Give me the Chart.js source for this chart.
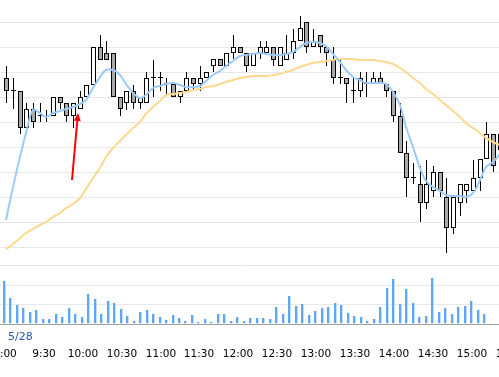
<!DOCTYPE html>
<html>
<head>
<meta charset="utf-8">
<script src="https://cdn.jsdelivr.net/npm/chart.js@4.4.1/dist/chart.umd.min.js"></script>
<style>
  html, body { margin: 0; padding: 0; background: #fff; }
  #wrap { position: relative; width: 499px; height: 377px; overflow: hidden; }
  canvas { position: absolute; left: -50px; }
  #priceChart { top: 0; }
  #volumeChart { top: 265px; }
  #date { position: absolute; left: 8px; top: 330px; font: 11px "DejaVu Sans"; line-height: 13px; color: #2a5aa8; }
</style>
</head>
<body>
<div id="wrap">
  <canvas id="priceChart" width="600" height="265"></canvas>
  <canvas id="volumeChart" width="600" height="112"></canvas>
  <div id="date">5/28</div>
</div>
<script>
// 5-minute candles from 9:00, index 0..74
const opens = [2694, 2681, 2681, 2644, 2663, 2656, 2655, 2656, 2675, 2669,
  2656, 2663, 2675, 2687, 2725, 2719, 2719, 2675, 2669, 2681,
  2669, 2669, 2694, 2694, 2688, 2688, 2675, 2681, 2694, 2688,
  2694, 2706, 2713, 2706, 2719, 2725, 2719, 2706, 2719, 2719,
  2725, 2706, 2712, 2719, 2731, 2750, 2725, 2737, 2725, 2712,
  2694, 2694, 2681, 2681, 2688, 2688, 2694, 2688, 2681, 2656,
  2619, 2594, 2588, 2569, 2581, 2600, 2575, 2544, 2569, 2581,
  2581, 2594, 2613, 2638, 2622];
const highs = [2706, 2694, 2681, 2669, 2669, 2669, 2662, 2675, 2675, 2669,
  2669, 2681, 2687, 2725, 2737, 2731, 2719, 2675, 2681, 2687,
  2675, 2700, 2712, 2700, 2694, 2688, 2681, 2700, 2694, 2706,
  2700, 2713, 2713, 2719, 2737, 2725, 2719, 2719, 2731, 2731,
  2725, 2725, 2737, 2743, 2756, 2750, 2743, 2737, 2725, 2725,
  2712, 2694, 2694, 2700, 2700, 2700, 2700, 2688, 2681, 2669,
  2631, 2609, 2606, 2612, 2606, 2600, 2594, 2575, 2588, 2588,
  2612, 2613, 2650, 2638, 2638];
const lows = [2669, 2663, 2638, 2638, 2644, 2650, 2650, 2656, 2663, 2650,
  2644, 2663, 2675, 2687, 2712, 2712, 2675, 2656, 2662, 2663,
  2663, 2669, 2675, 2681, 2676, 2675, 2669, 2681, 2681, 2681,
  2694, 2700, 2706, 2706, 2713, 2719, 2700, 2706, 2713, 2719,
  2706, 2706, 2712, 2713, 2731, 2719, 2725, 2719, 2706, 2688,
  2688, 2669, 2669, 2675, 2675, 2688, 2688, 2675, 2650, 2619,
  2575, 2588, 2550, 2563, 2575, 2575, 2519, 2538, 2556, 2569,
  2581, 2581, 2613, 2600, 2619];
const closes = [2681, 2681, 2644, 2663, 2650, 2656, 2655, 2675, 2669, 2656,
  2669, 2675, 2687, 2725, 2712, 2712, 2675, 2663, 2681, 2669,
  2675, 2694, 2694, 2694, 2688, 2675, 2681, 2694, 2688, 2694,
  2700, 2713, 2706, 2719, 2725, 2719, 2706, 2719, 2725, 2725,
  2712, 2725, 2719, 2731, 2744, 2725, 2731, 2725, 2719, 2694,
  2694, 2688, 2681, 2694, 2688, 2694, 2688, 2681, 2656, 2619,
  2594, 2594, 2569, 2588, 2600, 2581, 2544, 2575, 2588, 2588,
  2594, 2613, 2638, 2606, 2638];
const ma5 = [2552, 2585, 2615, 2639, 2662, 2659, 2655, 2659, 2661, 2663,
  2665, 2668, 2672, 2684, 2695, 2702, 2702, 2697, 2688, 2679,
  2674, 2677, 2684, 2686, 2688, 2689, 2687, 2685, 2685, 2686,
  2691, 2697, 2701, 2706, 2711, 2716, 2717, 2718, 2719, 2718,
  2717, 2717, 2718, 2720, 2725, 2729, 2730, 2729, 2726, 2718,
  2710, 2702, 2695, 2692, 2689, 2689, 2689, 2688, 2680, 2667,
  2645, 2625, 2604, 2591, 2585, 2581, 2577, 2576, 2576, 2575,
  2579, 2592, 2605, 2610, 2618];
const ma25 = [2523, 2528, 2534, 2539, 2543, 2547, 2550, 2555, 2559, 2564,
  2568, 2574, 2583, 2594, 2604, 2615, 2624, 2631, 2637, 2644,
  2650, 2658, 2665, 2671, 2677, 2678, 2679, 2680, 2682, 2683,
  2685, 2686, 2688.5, 2690.5, 2692.5, 2694, 2695, 2696, 2696.3, 2696.5,
  2697, 2698.5, 2700, 2702.5, 2705, 2706.5, 2708.5, 2710, 2711, 2711.5,
  2712.5, 2712.5, 2712.5, 2712, 2712, 2712, 2711, 2709.5, 2707.5, 2704,
  2700, 2694, 2689, 2683, 2678, 2672.5, 2667, 2661, 2655, 2649,
  2644, 2639, 2634.5, 2630.5, 2627];
const volumes = [44, 27, 19, 16, 12, 14, 5, 5, 10, 7.5,
  16, 10, 7, 31, 26, 10, 24, 22, 15, 8,
  3, 12, 14, 10, 7, 4, 9, 6, 3, 9,
  2, 5.5, 2, 10, 10, 3, 7, 3, 6, 6.5,
  6, 5, 17, 10.5, 29, 18.5, 20, 9, 13, 16,
  17, 21.5, 19, 11.5, 8.5, 7, 3.5, 5.5, 17.5, 36.5,
  46, 21, 35.5, 21.5, 7, 8, 47, 12.5, 16, 10,
  17, 18.5, 24, 14.5, 10];
// one label every 6 candles (30 min)
const timeLabels = ["9:00", "9:30", "10:00", "10:30", "11:00", "11:30", "12:00",
  "12:30", "13:00", "13:30", "14:00", "14:30", "15:00", "15:30"];
// red arrow annotation, in candle index / price
const arrowFrom = { x: 9.9, y: 2592 };
const arrowTo = { x: 10.8, y: 2659 };

const xMin = -8.43, xMax = 81.57; // visible window of the crop
Chart.defaults.font.family = "DejaVu Sans";

const idx = opens.map((_, i) => i);

// shift bar datasets by half a pixel so 1px wicks stay sharp
const pixelShift = {
  id: "pixelShift",
  beforeDatasetDraw(chart, args, opts) {
    if (args.meta.type !== "bar") return;
    chart.ctx.save();
    chart.ctx.translate(opts.dx || 0, 0);
  },
  afterDatasetDraw(chart, args) {
    if (args.meta.type !== "bar") return;
    chart.ctx.restore();
  }
};

const arrowPlugin = {
  id: "arrow",
  afterDatasetsDraw(chart) {
    const { ctx, scales: { x, y } } = chart;
    const x0 = x.getPixelForValue(arrowFrom.x), y0 = y.getPixelForValue(arrowFrom.y);
    const x1 = x.getPixelForValue(arrowTo.x), y1 = y.getPixelForValue(arrowTo.y);
    const ang = Math.atan2(y1 - y0, x1 - x0);
    const head = 8, half = 3.5;
    const bx = x1 - head * Math.cos(ang), by = y1 - head * Math.sin(ang);
    ctx.save();
    ctx.strokeStyle = "#ff0000";
    ctx.fillStyle = "#ff0000";
    ctx.lineWidth = 2;
    ctx.beginPath();
    ctx.moveTo(x0, y0);
    ctx.lineTo(bx, by);
    ctx.stroke();
    ctx.beginPath();
    ctx.moveTo(x1, y1);
    ctx.lineTo(bx + half * Math.sin(ang), by - half * Math.cos(ang));
    ctx.lineTo(bx - half * Math.sin(ang), by + half * Math.cos(ang));
    ctx.closePath();
    ctx.fill();
    ctx.restore();
  }
};

new Chart(document.getElementById("priceChart"), {
  type: "bar",
  data: {
    datasets: [
      {
        type: "line",
        data: ma5.map((v, i) => ({ x: i, y: v })),
        borderColor: "#9ccbfb",
        borderWidth: 2,
        pointRadius: 0,
        tension: 0.35,
        order: 0
      },
      {
        type: "line",
        data: ma25.map((v, i) => ({ x: i, y: v })),
        borderColor: "#ffd890",
        borderWidth: 2,
        pointRadius: 0,
        tension: 0.35,
        order: 0
      },
      {
        data: idx.filter(i => opens[i] !== closes[i]).map(i => ({ x: i, y: [opens[i], closes[i]] })),
        backgroundColor: ctx => (ctx.raw && ctx.raw.y[1] > ctx.raw.y[0]) ? "#ffffff" : "#aaaaaa",
        borderColor: "#000",
        borderWidth: 1,
        borderSkipped: false,
        barThickness: 5,
        inflateAmount: 0,
        grouped: false,
        order: 1
      },
      {
        data: idx.filter(i => opens[i] === closes[i]).map(i => ({ x: i, y: [opens[i], closes[i]] })),
        backgroundColor: "#000",
        barThickness: 5,
        minBarLength: 1,
        inflateAmount: 0,
        grouped: false,
        order: 2
      },
      {
        data: idx.map(i => ({ x: i, y: [lows[i], highs[i]] })),
        backgroundColor: "#000",
        barThickness: 1,
        inflateAmount: 0,
        grouped: false,
        order: 3
      }
    ]
  },
  options: {
    responsive: false,
    animation: false,
    layout: { padding: 0, autoPadding: false },
    scales: {
      x: { type: "linear", min: xMin, max: xMax, offset: false, display: false, alignToPixels: true },
      y: {
        min: 2507, max: 2772,
        alignToPixels: true,
        ticks: { display: false, stepSize: 25, includeBounds: false },
        grid: { color: "#e8e8e8", drawTicks: false },
        border: { display: false }
      }
    },
    plugins: {
      legend: { display: false },
      tooltip: { enabled: false },
      pixelShift: { dx: 0.5 }
    }
  },
  plugins: [pixelShift, arrowPlugin]
});

new Chart(document.getElementById("volumeChart"), {
  type: "bar",
  data: {
    datasets: [{
      data: volumes.map((v, i) => ({ x: i, y: v })),
      backgroundColor: "#5fa7f6",
      borderColor: "#c6e0fc",
      borderWidth: { top: 0, right: 1, bottom: 0, left: 0 },
      borderSkipped: false,
      barThickness: 3,
      inflateAmount: 0,
      grouped: false
    }]
  },
  options: {
    responsive: false,
    animation: false,
    layout: { padding: 0, autoPadding: false },
    scales: {
      x: {
        type: "linear", min: xMin, max: xMax, offset: false, alignToPixels: true,
        afterBuildTicks: axis => { axis.ticks = timeLabels.map((_, k) => ({ value: k * 6 })); },
        afterFit: axis => { axis.height = 53; },
        ticks: {
          autoSkip: false, maxRotation: 0, padding: 24, color: "#000",
          font: { size: 10.5 },
          callback: v => timeLabels[v / 6]
        },
        grid: { display: false, drawTicks: false },
        border: { display: true, color: "#a0a0a0" }
      },
      y: {
        min: 0, max: 60.5,
        alignToPixels: true,
        ticks: { display: false, stepSize: 20, includeBounds: false },
        grid: { color: "#e8e8e8", drawTicks: false },
        border: { display: false }
      }
    },
    plugins: {
      legend: { display: false },
      tooltip: { enabled: false },
      pixelShift: { dx: -0.5 }
    }
  },
  plugins: [pixelShift]
});
</script>
</body>
</html>
